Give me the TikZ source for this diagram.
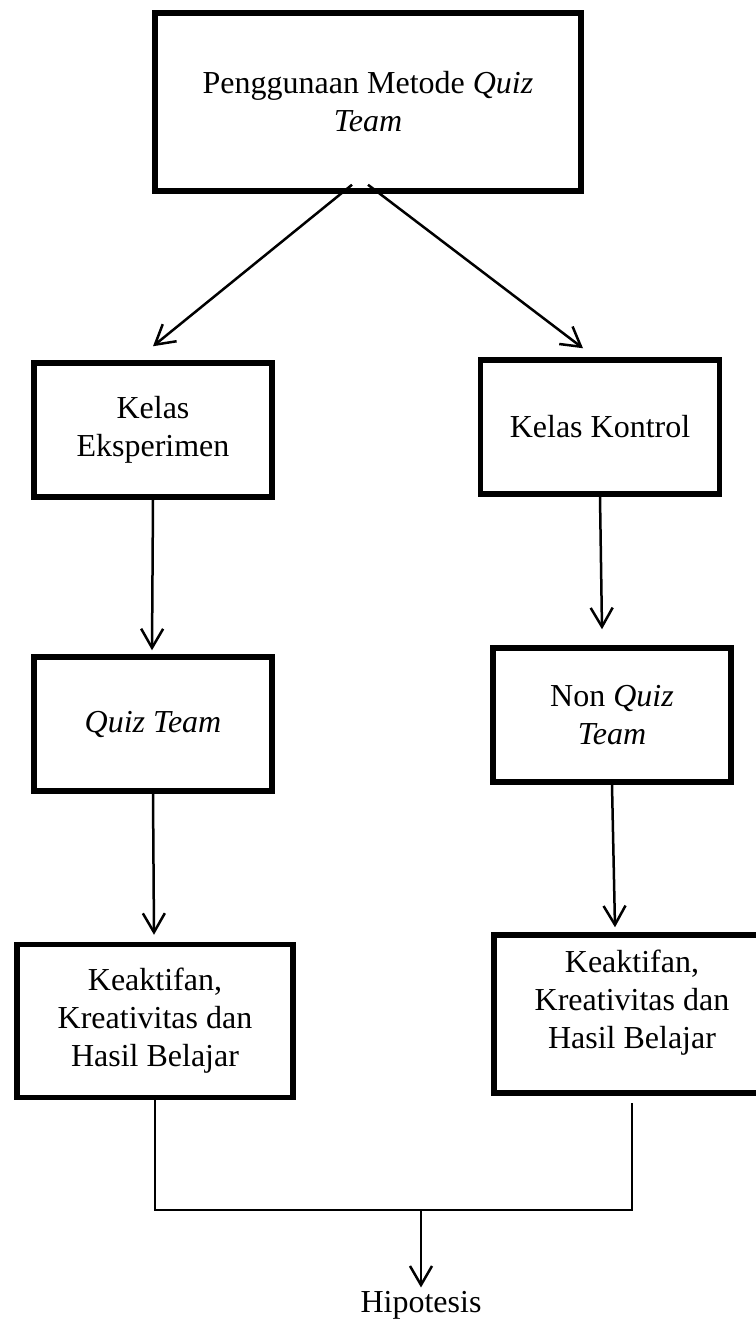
\documentclass[tikz,border=0pt]{standalone}
\usepackage{fontspec}
\setmainfont{Liberation Serif}
\usetikzlibrary{arrows.meta,calc}

\begin{document}
\begin{tikzpicture}[x=1pt,y=-1pt,
    every node/.style={font=\fontsize{32}{38}\selectfont},
    box/.style={draw,line width=5.5pt,align=flush center,inner sep=0pt},
    arr/.style={line width=2.5pt,-{Straight Barb[length=19pt,width=22pt]}},
    joinline/.style={line width=2pt}
   ]
  \useasboundingbox (0,0) rectangle (755,1325);
  \node[box,minimum width=426pt,minimum height=178pt] (metode) at (368,102) {Penggunaan Metode \textit{Quiz}\\\textit{Team}};
  \node[box,minimum width=238pt,minimum height=134pt] (eksp) at (153,430) {Kelas\\Eksperimen};
  \node[box,minimum width=239pt,minimum height=134pt] (kontrol) at (600,427) {Kelas Kontrol};
  \node[box,minimum width=238pt,minimum height=134pt] (quiz) at (153,724) {\textit{Quiz Team}};
  \node[box,minimum width=238pt,minimum height=134pt] (nonquiz) at (612,715) {Non \textit{Quiz}\\\textit{Team}};
  \node[box,minimum width=276pt,minimum height=153pt] (hasilE) at (155,1021) {Keaktifan,\\Kreativitas dan\\Hasil Belajar};
  \node[box,minimum width=276pt,minimum height=158pt,text width=260pt] (hasilK) at (632,1014)
    {Keaktifan,\\Kreativitas dan\\Hasil Belajar\par\vspace{22pt}\nointerlineskip\null};
  \node (hipotesis) at (421,1305) {Hipotesis};

  \draw[arr] ($(metode.south)+(-16,-9)$) -- ($(eksp.north)+(0,-14)$);
  \draw[arr] ($(metode.south)+(0,-9)$) -- ($(kontrol.north)+(-17,-9)$);
  \draw[arr] (eksp.south) -- ($(quiz.north)+(-1,-4)$);
  \draw[arr] (kontrol.south) -- ($(nonquiz.north)+(-10,-16)$);
  \draw[arr] (quiz.south) -- ($(hasilE.north)+(-1,-7)$);
  \draw[arr] (nonquiz.south) -- ($(hasilK.north)+(-17,-5)$);
  \draw[joinline] (hasilE.south) -- ++(0,110) coordinate (kiri) -- (kiri -| hasilK.south) -- ($(hasilK.south)+(0,7)$);
  \draw[arr] (kiri -| hipotesis) -- (hipotesis);
\end{tikzpicture}
\end{document}
